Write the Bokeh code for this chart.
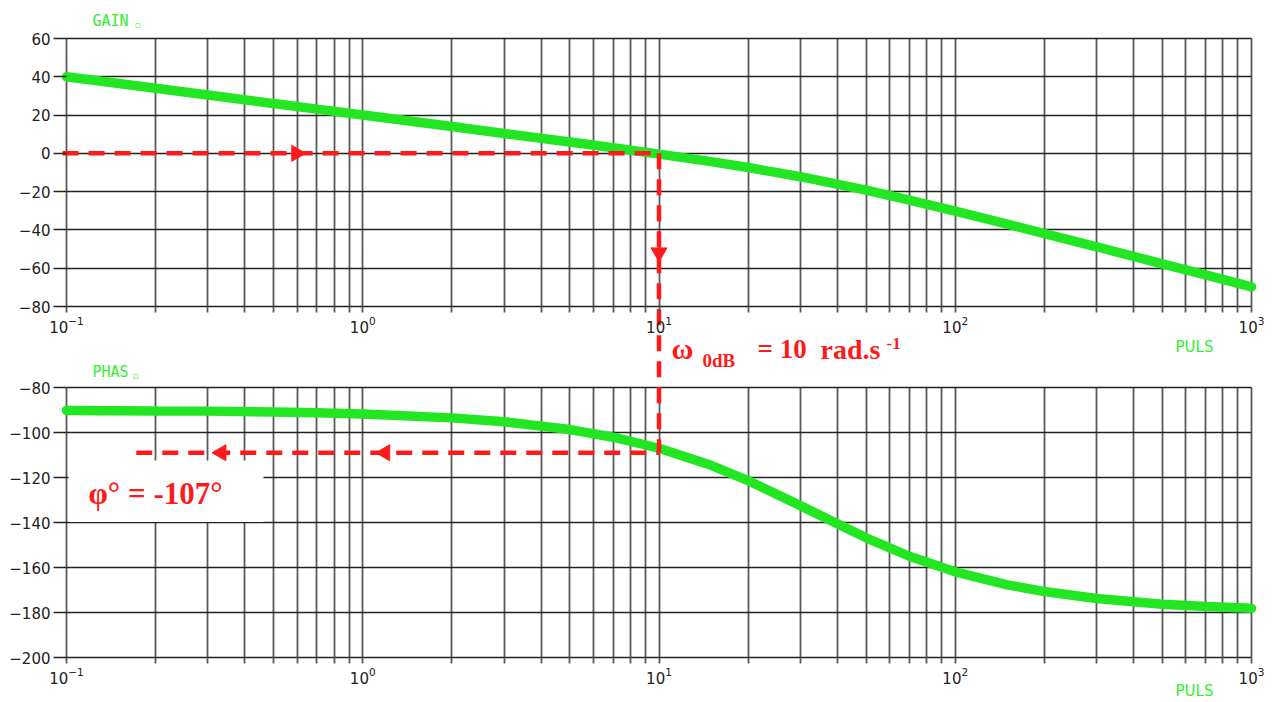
import math
from bokeh.plotting import figure
from bokeh.models import (FixedTicker, LogTickFormatter, Label, Range1d, Grid,
                          LinearAxis, LogAxis)
from bokeh.embed import file_html
from bokeh.resources import INLINE

# ---- data ----
PULS = [0.1, 0.2, 0.3, 0.5, 0.7, 1, 2, 3, 5, 7, 10, 15, 20, 30, 50, 70,
        100, 150, 200, 300, 500, 700, 1000]
GAIN = [40.0, 34.0, 30.5, 26.0, 23.1, 20.0, 14.0, 10.4, 5.9, 2.9, -0.4, -4.3,
        -7.4, -12.2, -19.2, -24.4, -30.2, -37.0, -41.9, -48.8, -57.7, -63.5, -69.7]
PHASE = [-90.2, -90.4, -90.5, -90.9, -91.2, -91.8, -93.5, -95.2, -98.7, -102.1,
         -107.0, -114.6, -121.4, -132.5, -146.8, -155.0, -161.9, -167.7, -170.7,
         -173.8, -176.3, -177.3, -178.1]
GAIN_TICKS = [-80, -60, -40, -20, 0, 20, 40, 60]
PHASE_TICKS = [-200, -180, -160, -140, -120, -100, -80]
DECADES = [0.1, 1, 10, 100, 1000]
MINOR = [m * d for d in DECADES[:-1] for m in range(2, 10)]

W_0DB = 10          # rad/s, 0 dB crossing
GAIN_0DB = 0        # dB
PHI_LINE = -109     # level of the dashed phase read-out line
ARROW_R = [0.597]           # right-pointing arrow on the 0 dB line
ARROW_D = [-51.8]           # down-pointing arrow (gain units) at w = 10
ARROW_L = [0.333, 1.19]     # left-pointing arrows on the phase line
GAIN_LINE_START = 0.097
PHASE_LINE_START = 0.172
PHI_TEXT = "φ° = -107°"

# ---- page layout (pixels) ----
W, H = 1273, 702
F_L, F_R = 66, 1251          # left / right of both panels
G_TOP, G_BOT = 38, 306       # gain panel
P_TOP, P_BOT = 387, 657      # phase panel

RED = "#ff1a1a"
GREEN = "#22e622"
LGREEN = "#33ee33"
TICK_FONT = "DejaVu Sans"
GRID_V = "#5a5a5a"
GRID_H = "#222222"

lx0, lx1 = math.log10(DECADES[0]), math.log10(DECADES[-1])
dec_px = (F_R - F_L) / (lx1 - lx0)


def x_at(px):
    return 10 ** (lx0 + (px - F_L) / dec_px)


def gain_at(py):
    g0, g1 = GAIN_TICKS[0], GAIN_TICKS[-1]
    return g1 - (py - G_TOP) * (g1 - g0) / (G_BOT - G_TOP)


def phase_at(py):
    p0, p1 = PHASE_TICKS[0], PHASE_TICKS[-1]
    return p1 - (py - P_TOP) * (p1 - p0) / (P_BOT - P_TOP)


def phase_px(v):
    p0, p1 = PHASE_TICKS[0], PHASE_TICKS[-1]
    return P_TOP + (p1 - v) * (P_BOT - P_TOP) / (p1 - p0)


p = figure(width=W, height=H, x_axis_type="log", x_axis_location=None,
           y_axis_location=None,
           x_range=Range1d(x_at(0), x_at(W)),
           y_range=Range1d(gain_at(H), gain_at(0)),
           output_backend="svg", toolbar_location=None,
           min_border=0, min_border_left=0, min_border_right=0,
           min_border_top=0, min_border_bottom=0)
p.extra_y_ranges = {"phase": Range1d(phase_at(H), phase_at(0))}
p.outline_line_color = None
p.background_fill_color = "white"
p.border_fill_color = "white"
p.grid.visible = False

# ---- grids ----
has_cross = "cross_bounds" in Grid.properties()
panels = [("default", GAIN_TICKS), ("phase", PHASE_TICKS)]
for rname, yt in panels:
    if has_cross:
        gv = Grid(dimension=0, y_range_name=rname,
                  ticker=FixedTicker(ticks=DECADES, minor_ticks=MINOR),
                  cross_bounds=(yt[0], yt[-1]),
                  grid_line_color=GRID_V, grid_line_width=1.8,
                  minor_grid_line_color=GRID_V, minor_grid_line_width=1.8)
        gh = Grid(dimension=1, y_range_name=rname,
                  ticker=FixedTicker(ticks=yt),
                  cross_bounds=(DECADES[0], DECADES[-1]),
                  grid_line_color=GRID_H, grid_line_width=1.3)
        p.add_layout(gv)
        p.add_layout(gh)
    else:
        xs = DECADES + MINOR
        p.segment(x0=xs, x1=xs, y0=[yt[0]] * len(xs), y1=[yt[-1]] * len(xs),
                  y_range_name=rname, line_color=GRID_V, line_width=1.8)
        p.segment(x0=[DECADES[0]] * len(yt), x1=[DECADES[-1]] * len(yt),
                  y0=yt, y1=yt, y_range_name=rname, line_color=GRID_H,
                  line_width=1.3)

# ---- axes (fixed inside the full-page frame) ----
for rname, yt in panels:
    ya = LinearAxis(y_range_name=rname, fixed_location=DECADES[0],
                    ticker=FixedTicker(ticks=yt), bounds=(yt[0], yt[-1]))
    ya.axis_line_color = None
    ya.major_tick_out = 13
    ya.major_tick_in = 0
    ya.minor_tick_out = 0
    ya.minor_tick_in = 0
    ya.major_tick_line_color = GRID_H
    ya.major_tick_line_width = 1.3
    ya.major_label_standoff = 3
    ya.major_label_text_font = TICK_FONT
    ya.major_label_text_font_size = "15px"
    ya.major_label_text_color = "#222222"
    p.add_layout(ya, "left")

    xa = LogAxis(y_range_name=rname, fixed_location=yt[0],
                 ticker=FixedTicker(ticks=DECADES, minor_ticks=MINOR),
                 formatter=LogTickFormatter())
    xa.axis_line_color = None
    xa.major_tick_out = 6
    xa.major_tick_in = 0
    xa.minor_tick_out = 6
    xa.minor_tick_in = 0
    xa.major_tick_line_color = GRID_V
    xa.minor_tick_line_color = GRID_V
    xa.major_tick_line_width = 1.8
    xa.minor_tick_line_width = 1.8
    xa.major_label_standoff = 3
    xa.major_label_text_font = TICK_FONT
    xa.major_label_text_font_size = "15px"
    xa.major_label_text_color = "#222222"
    p.add_layout(xa, "below")

# ---- curves ----
p.line(PULS, GAIN, line_color=GREEN, line_width=9.5, line_cap="round")
p.line(PULS, PHASE, y_range_name="phase", line_color=GREEN, line_width=9.5,
       line_cap="round")

# white box behind the phase read-out text
p.quad(left=[x_at(68)], right=[x_at(263)], top=[phase_at(460)],
       bottom=[phase_at(521.5)], y_range_name="phase",
       fill_color="white", line_color=None)

# ---- read-out lines ----
DASH = dict(line_color=RED, line_width=4.5, line_dash="16 10")
p.line([GAIN_LINE_START, W_0DB], [GAIN_0DB, GAIN_0DB], **DASH)
p.line([W_0DB, W_0DB], [GAIN_0DB, gain_at(phase_px(PHI_LINE))], **DASH)
p.line([PHASE_LINE_START, W_0DB], [PHI_LINE, PHI_LINE], y_range_name="phase", **DASH)

p.scatter(ARROW_R, [GAIN_0DB] * len(ARROW_R), marker="triangle", angle=-90,
          angle_units="deg", size=16, color=RED)
p.scatter([W_0DB] * len(ARROW_D), ARROW_D, marker="inverted_triangle", size=16,
          color=RED)
p.scatter(ARROW_L, [PHI_LINE] * len(ARROW_L), marker="triangle", angle=90,
          angle_units="deg", size=16, color=RED, y_range_name="phase")


# ---- texts ----
def lab(px, py, text, size, font="Liberation Serif", color=RED, style="bold",
        phase=False):
    # py is the wanted baseline (pixels from the top); compensate Bokeh's
    # baseline placement
    py = py - (0.28 * size + 1.5)
    y = phase_at(py) if phase else gain_at(py)
    p.add_layout(Label(x=x_at(px), y=y, text=text, text_font=font,
                       y_range_name="phase" if phase else "default",
                       text_font_size=f"{size}px", text_color=color,
                       text_font_style=style, text_baseline="alphabetic"))


lab(92, 26, "GAIN", 15, font="DejaVu Sans Mono", color=LGREEN, style="normal")
lab(134, 29, "▫", 9, font="DejaVu Sans", color=LGREEN, style="normal")
lab(1175, 352, "PULS", 15, font="DejaVu Sans", color=LGREEN, style="normal")
lab(92, 377, "PHAS", 15, font="DejaVu Sans Mono", color=LGREEN, style="normal")
lab(132, 380, "▫", 9, font="DejaVu Sans", color=LGREEN, style="normal")
lab(1175, 696, "PULS", 15, font="DejaVu Sans", color=LGREEN, style="normal")

lab(671, 358, "ω", 30)
lab(702, 367, "0dB", 19)
lab(757, 358, "= 10", 27)
lab(820, 358, "rad.s", 28)
lab(886, 349, "-1", 17)

lab(88, 503, PHI_TEXT, 31, phase=True)

open("out.html", "w").write(file_html(p, INLINE))
